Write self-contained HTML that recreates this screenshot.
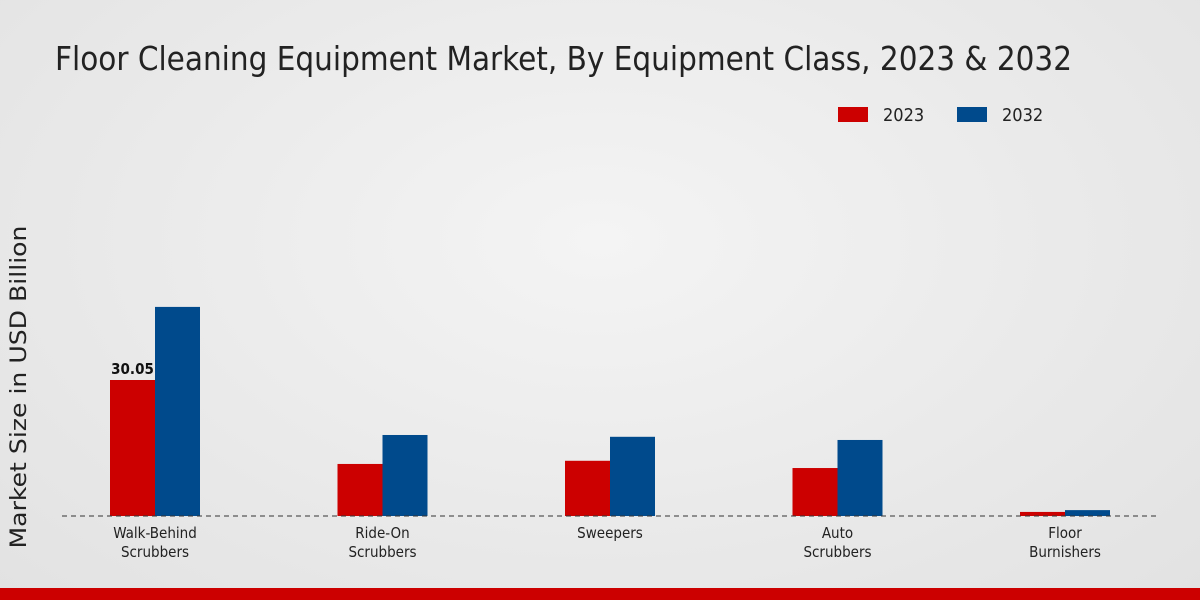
<!DOCTYPE html>
<html><head><meta charset="utf-8"><style>
body{margin:0;width:1200px;height:600px;overflow:hidden;font-family:"DejaVu Sans Condensed","DejaVu Sans","Liberation Sans",sans-serif;}
#bg{position:absolute;left:0;top:0;width:1200px;height:600px;background:radial-gradient(ellipse at 50% 40%,#f4f4f4 0%,#e9e9e9 60%,#e2e2e2 100%);}
</style></head><body>
<div id="bg"></div>
<svg id="chart" width="1200" height="600" style="position:absolute;left:0;top:0">
<text x="55" y="70" font-size="33" textLength="1017" lengthAdjust="spacingAndGlyphs" fill="#222" font-family="DejaVu Sans Condensed, DejaVu Sans, sans-serif">Floor Cleaning Equipment Market, By Equipment Class, 2023 &amp; 2032</text>
<text transform="translate(26,387) rotate(-90)" text-anchor="middle" font-size="22" textLength="323" lengthAdjust="spacingAndGlyphs" font-family="DejaVu Sans, sans-serif" fill="#222">Market Size in USD Billion</text>
<g>
<rect x="838" y="107" width="30" height="15" fill="#cc0000"/>
<text x="883" y="121" font-size="18" fill="#222">2023</text>
<rect x="957" y="107" width="30" height="15" fill="#004a8c"/>
<text x="1002" y="121" font-size="18" fill="#222">2032</text>
</g>
<g id="bars"></g>
<line x1="62" y1="516" x2="1160" y2="516" stroke="#333" stroke-dasharray="5,4" stroke-width="1"/>
<g id="labels"></g>
<rect x="0" y="588" width="1200" height="12" fill="#cc0000"/>
</svg>
<script>
const categories=[["Walk-Behind","Scrubbers"],["Ride-On","Scrubbers"],["Sweepers"],["Auto","Scrubbers"],["Floor","Burnishers"]];
const values2023=[30.05,11.5,12.2,10.6,0.9];
const values2032=[46.2,17.9,17.5,16.8,1.3];
const valueLabels=["30.05","","","",""];
const baseY=516, pxPerUnit=136/30.05;
const xCenter=i=>155+i*227.5;
const yScale=v=>baseY-v*pxPerUnit;
const NS="http://www.w3.org/2000/svg";
const bars=document.getElementById('bars'), labels=document.getElementById('labels');
function rect(x,v,color,name){
  const r=document.createElementNS(NS,'rect');
  r.setAttribute('x',x);r.setAttribute('y',yScale(v));r.setAttribute('width',45);r.setAttribute('height',baseY-yScale(v));r.setAttribute('fill',color);
  
  
  bars.appendChild(r);
}
categories.forEach((c,i)=>{
  const cx=xCenter(i);
  rect(cx-45,values2023[i],'#cc0000','bar-2023-'+i);
  rect(cx,values2032[i],'#004a8c','bar-2032-'+i);
  if(valueLabels[i]){
    const t=document.createElementNS(NS,'text');
    t.setAttribute('x',cx-22.5);t.setAttribute('y',yScale(values2023[i])-6);t.setAttribute('text-anchor','middle');t.setAttribute('font-size','15');t.setAttribute('font-weight','bold');t.setAttribute('fill','#111');
    t.textContent=valueLabels[i];
    
    
    labels.appendChild(t);
  }
  c.forEach((line,j)=>{
    const t=document.createElementNS(NS,'text');
    t.setAttribute('x',cx);t.setAttribute('y',538+j*19);t.setAttribute('text-anchor','middle');t.setAttribute('font-size','15');t.setAttribute('fill','#222');
    t.textContent=line;
    
    
    labels.appendChild(t);
  });
});
</script>
</body></html>
